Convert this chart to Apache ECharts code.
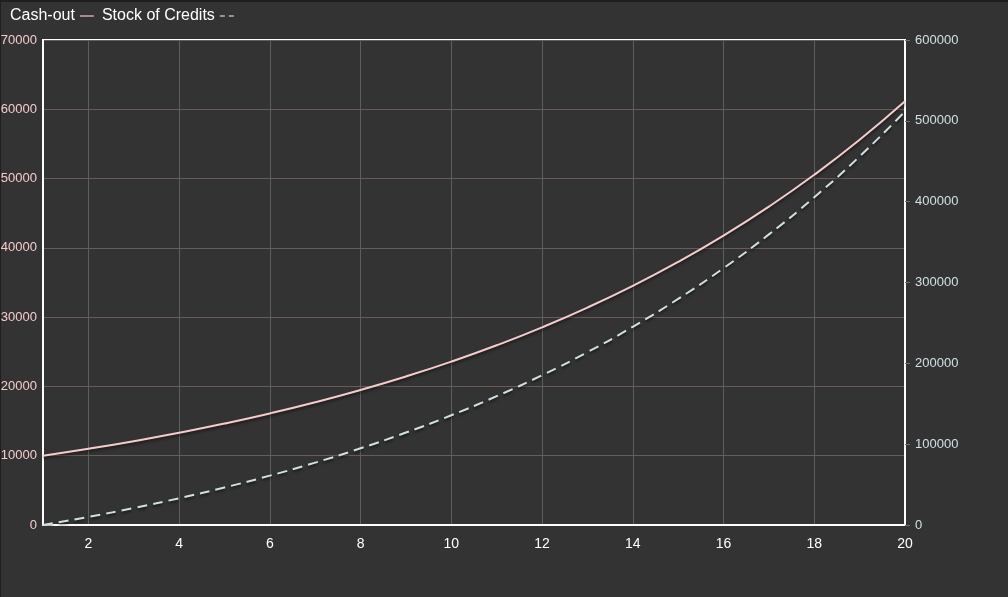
<!DOCTYPE html>
<html>
<head>
<meta charset="utf-8">
<script src="https://cdn.jsdelivr.net/npm/echarts@6/dist/echarts.min.js"></script>
<style>
html,body{margin:0;padding:0;background:#333333;}
#wrap{position:relative;width:1008px;height:597px;}
#chart{width:1008px;height:597px;}
#edge{position:absolute;left:0;top:0;width:1008px;height:597px;box-sizing:border-box;border-top:2px solid #1f1f1f;border-left:1px solid #1f1f1f;pointer-events:none;}
</style>
</head>
<body>
<div id="wrap"><div id="chart"></div><div id="edge"></div></div>
<script>
const years = [1,2,3,4,5,6,7,8,9,10,11,12,13,14,15,16,17,18,19,20];
const cashOut = [10000,11000,12100,13310,14641,16105,17716,19487,21436,23579,25937,28531,31384,34523,37975,41772,45950,50545,55599,61159];
const stockOfCredits = [0,10000,21000,33100,46410,61051,77156,94872,114359,135795,159374,185312,213843,245227,279750,317725,359497,405447,455992,511591];
const leftTicks = {min:0, max:70000, step:10000};
const rightTicks = {min:0, max:600000, step:100000};

const chart = echarts.init(document.getElementById('chart'), null, {renderer:'canvas'});
const font = 'Arial, "Liberation Sans", sans-serif';
chart.setOption({
  backgroundColor:'#333333',
  animation:false,
  textStyle:{fontFamily:font},
  legend:{
    left:5, top:3, align:'right', itemGap:8, itemWidth:14, itemHeight:2,
    textStyle:{color:'#ffffff', fontSize:16, fontFamily:font},
    data:[
      {name:'Cash-out', icon:'path://M0,0H14V2H0Z', itemStyle:{color:'#a88a8a'}},
      {name:'Stock of Credits', icon:'path://M0,0H5V2H0ZM9,0H14V2H9Z', itemStyle:{color:'#8f9798'}}
    ]
  },
  grid:{left:43, right:103, top:40, bottom:72, containLabel:false, outerBoundsMode:'none', show:true, borderColor:'#ffffff', borderWidth:2, backgroundColor:'transparent'},
  xAxis:{
    type:'category', data:years.map(String), boundaryGap:false,
    axisLine:{show:true, lineStyle:{color:'#ffffff', width:2}},
    axisTick:{show:false},
    axisLabel:{color:'#ffffff', fontSize:14, margin:12, interval:(i,v)=>Number(v)%2===0},
    splitLine:{show:true, interval:(i,v)=>Number(v)%2===0, lineStyle:{color:'#5e5e5e', width:1}}
  },
  yAxis:[
    {type:'value', min:leftTicks.min, max:leftTicks.max, interval:leftTicks.step, position:'left',
     axisLine:{show:true, lineStyle:{color:'#ffffff', width:2}},
     axisTick:{show:false},
     axisLabel:{color:'#f4cccc', fontSize:13, margin:6, formatter:v=>String(v)},
     splitLine:{show:true, lineStyle:{color:'#6a5b5b', width:1}}},
    {type:'value', min:rightTicks.min, max:rightTicks.max, interval:rightTicks.step, position:'right',
     axisLine:{show:true, lineStyle:{color:'#ffffff', width:2}},
     axisTick:{show:true, length:5, lineStyle:{color:'#707070'}},
     axisLabel:{color:'#d0e0e3', fontSize:13, margin:10, formatter:v=>String(v)},
     splitLine:{show:false}}
  ],
  series:[
    {name:'Cash-out', type:'line', yAxisIndex:0, data:cashOut, smooth:true, showSymbol:false,
     lineStyle:{color:'#f4cccc', width:2, shadowColor:'rgba(0,0,0,0.55)', shadowBlur:3, shadowOffsetY:2},
     itemStyle:{color:'#f4cccc'}},
    {name:'Stock of Credits', type:'line', yAxisIndex:1, data:stockOfCredits, smooth:true, showSymbol:false,
     lineStyle:{color:'#d0e0e3', width:2, type:[10,6], shadowColor:'rgba(0,0,0,0.55)', shadowBlur:3, shadowOffsetY:2},
     itemStyle:{color:'#d0e0e3'}}
  ]
});
</script>
</body>
</html>
